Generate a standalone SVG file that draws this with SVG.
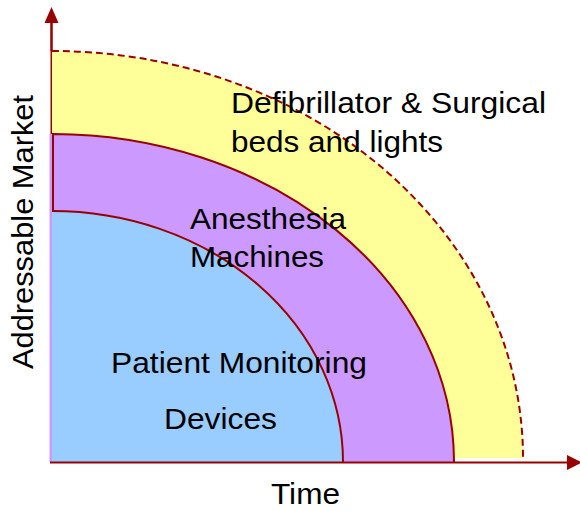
<svg xmlns="http://www.w3.org/2000/svg" width="580" height="511" viewBox="0 0 580 511">
<style>
.t{font-family:"Liberation Sans",Arial,sans-serif;font-size:30px;fill:#000}
.ax{stroke:#990000;stroke-width:2;fill:none}
.arc{stroke:#990000;stroke-width:2;fill:none}
</style>
<rect width="580" height="511" fill="#fff"/>
<g id="axes-back">
<line class="ax" x1="51.5" y1="463" x2="51.5" y2="22"/>
</g>
<g id="yellow">
<path d="M52,458 L52,51 A471 407 0 0 1 523,458 Z" fill="#FFFF99"/>
<path d="M52,51 A471 407 0 0 1 523,458" class="arc" stroke-dasharray="7 4"/>
</g>
<g id="purple">
<path d="M49.5,462 L49.5,134 L52,134 A402 328 0 0 1 454,462 Z" fill="#CC99FF"/>
<path d="M53,211 L53,134 A402 328 0 0 1 454,462" class="arc"/>
</g>
<g id="blue">
<path d="M52,462 L52,211 A291 251 0 0 1 343,462 Z" fill="#99CCFF"/>
<path d="M52,211 A291 251 0 0 1 343,462" class="arc"/>
</g>
<g id="connectors">
<line class="ax" x1="51.5" y1="51" x2="51.5" y2="22"/>
<polygon points="51.5,7 44.5,23 58.5,23" fill="#990000"/>
<line class="ax" x1="50" y1="462.5" x2="568" y2="462.5"/>
<polygon points="582,462.5 567,455 567,470" fill="#990000"/>
</g>
<g id="labels">
<text class="t" x="231" y="113" textLength="315" lengthAdjust="spacingAndGlyphs">Defibrillator &amp; Surgical</text>
<text class="t" x="231" y="152" textLength="212" lengthAdjust="spacingAndGlyphs">beds and lights</text>
<text class="t" x="190" y="229" textLength="156" lengthAdjust="spacingAndGlyphs">Anesthesia</text>
<text class="t" x="190" y="267" textLength="134" lengthAdjust="spacingAndGlyphs">Machines</text>
<text class="t" x="111" y="373" textLength="256" lengthAdjust="spacingAndGlyphs">Patient Monitoring</text>
<text class="t" x="164" y="429" textLength="113" lengthAdjust="spacingAndGlyphs">Devices</text>
<text class="t" x="271" y="504" textLength="69" lengthAdjust="spacingAndGlyphs">Time</text>
<text class="t" transform="translate(33,369) rotate(-90)" x="0" y="0" textLength="274" lengthAdjust="spacingAndGlyphs">Addressable Market</text>
</g>
</svg>
